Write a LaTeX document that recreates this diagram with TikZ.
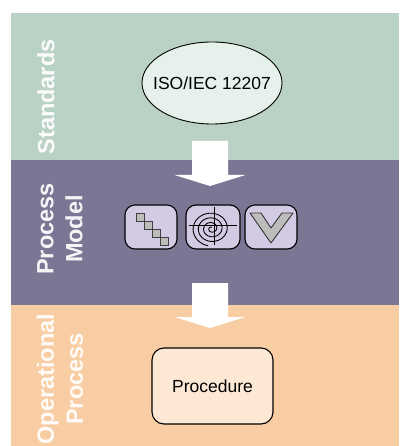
\documentclass[tikz,border=0pt]{standalone}
\usepackage{fontspec}
\setmainfont{Liberation Sans}
\usetikzlibrary{shapes.geometric,calc}
\definecolor{stdgreen}{HTML}{BAD1C5}
\definecolor{ellfill}{HTML}{E5F1EA}
\definecolor{pmpurple}{HTML}{7B7694}
\definecolor{oppeach}{HTML}{F8CDA3}
\definecolor{procfill}{HTML}{FDE7D5}
\definecolor{iconfill}{HTML}{D3CBE4}
\definecolor{graysq}{HTML}{BDBDBD}
\begin{document}
\begin{tikzpicture}[x=1bp,y=-1bp,
  bandlabel/.style={rotate=90,text=white,text opacity=0.93,align=center,
    font=\fontsize{23.5bp}{29bp}\selectfont\bfseries,inner sep=0pt},
  iconbox/.style={draw=black,line width=1.1bp,fill=iconfill,rounded corners=10bp,
    minimum height=44bp,inner sep=0pt},
  blockarrow/.style={fill=white},
  graybit/.style={fill=graysq,draw=black!75,line width=0.8bp}]
\useasboundingbox (0,0) rectangle (399,446);
% bands
\fill[stdgreen] (11,13) rectangle (399,160);
\fill[pmpurple] (11,160) rectangle (399,305);
\fill[oppeach] (11,305) rectangle (399,446);
% band labels
\node[bandlabel] (lstd) at (46,97) {Standards};
\node[bandlabel] (lpm) at (60,229) {Process\\Model};
\node[bandlabel] (lop) at (60,379) {Operational\\Process};
% standard
\node[ellipse,draw=black,line width=0.9bp,fill=ellfill,minimum width=140bp,minimum height=82bp,
  inner sep=0pt,font=\fontsize{17.5bp}{20bp}\selectfont] (iso) at (212,83) {\makebox[0pt]{ISO/IEC 12207}};
% icons
\node[iconbox,minimum width=52bp] (icw) at (151,227) {};
\node[iconbox,minimum width=54bp] (ics) at (213,227) {};
\node[iconbox,minimum width=52bp] (icv) at (271,227) {};
% waterfall squares
\foreach \k in {0,1,2,3}{
  \draw[graybit] ($(icw.center)+(-15+8*\k,-14+8*\k)$) rectangle ++(8,8);
}
% spiral
\draw[line width=0.9bp,smooth,samples=300,domain=80:1340]
  plot ({211.5+19.5*(\x/1340)*cos(\x)},{228.5-17.5*(\x/1340)*sin(\x)});
\draw[line width=0.9bp] ($(ics.center)+(-24,-2)$) -- ($(ics.center)+(24,-2)$);
\draw[line width=0.9bp] ($(ics.center)+(1,-20)$) -- ($(ics.center)+(1,18)$);
% V
\draw[fill=graysq,draw=black!80,line width=0.9bp,line join=round]
  ($(icv.center)+(-21,-14)$) -- ++(11,0) -- ($(icv.center)+(0,1)$) -- ($(icv.center)+(11,-14)$)
  -- ($(icv.center)+(22,-14)$) -- ($(icv.center)+(0,16)$) -- cycle;
% procedure
\node[draw=black,line width=1.1bp,fill=procfill,rounded corners=12bp,minimum width=121bp,
  minimum height=76bp,inner sep=0pt,font=\fontsize{17.5bp}{20bp}\selectfont] (proc) at (212.5,386) {Procedure};
% block arrows
\coordinate (a1) at (210,141);
\coordinate (a2) at (210,283);
\foreach \a in {a1,a2}{
  \fill[blockarrow] ($(\a)+(-18,0)$) -- ($(\a)+(18,0)$) -- ($(\a)+(18,34)$) -- ($(\a)+(35.5,34)$)
    -- ($(\a)+(0,45)$) -- ($(\a)+(-35.5,34)$) -- ($(\a)+(-18,34)$) -- cycle;
}
\end{tikzpicture}
\end{document}
